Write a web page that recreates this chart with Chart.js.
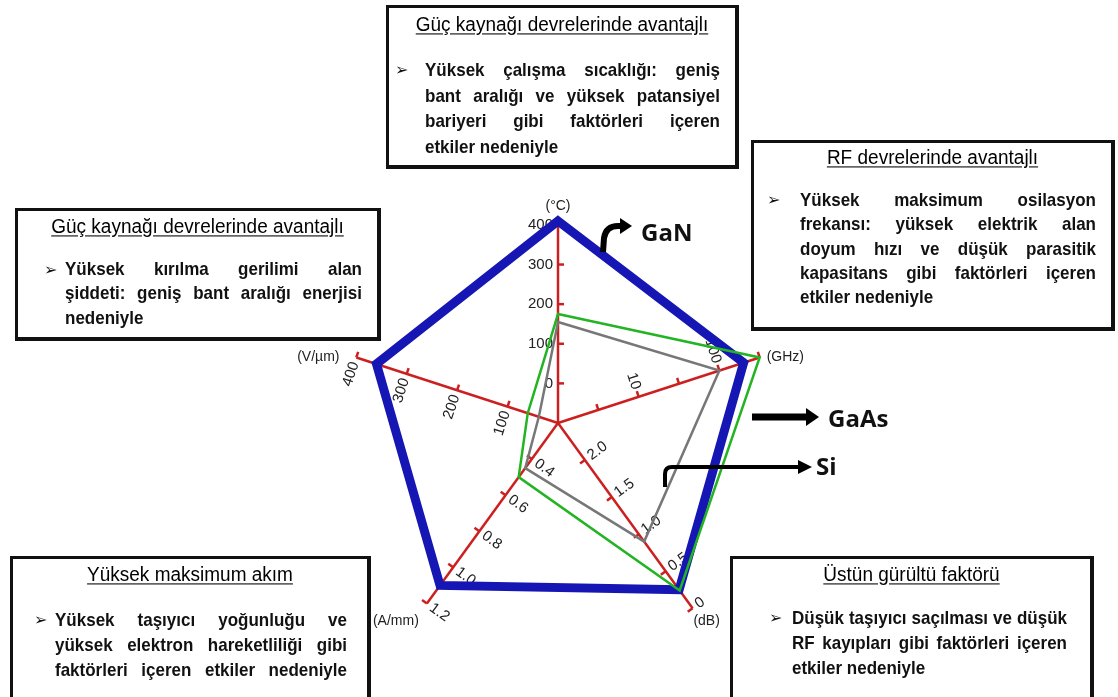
<!DOCTYPE html>
<html>
<head>
<meta charset="utf-8">
<script src="https://cdn.jsdelivr.net/npm/chart.js@4.4.0/dist/chart.umd.min.js"></script>
<style>
html, body { margin: 0; padding: 0; background: #fff; }
body { width: 1118px; height: 697px; position: relative; overflow: hidden; font-family: "Liberation Sans", Arial, sans-serif; color: #111; }
#wrap { position: absolute; left: 0; top: 0; width: 1118px; height: 697px; }
.box { position: absolute; background: #fff; border: 3px solid #111; border-right-width: 4px; border-bottom-width: 4px; box-sizing: border-box; }
.ttl { position: absolute; left: 0; right: 0; text-align: center; font-size: 19px; line-height: 22px; color: #000; text-decoration: underline; text-underline-offset: 2px; transform: scaleY(1.05); }
.txt { position: absolute; font-size: 17px; font-weight: bold; }
.txt div { white-space: nowrap; text-align: justify; text-align-last: justify; transform: scaleY(1.12); }
.txt div.last { text-align-last: left; }
.bul { position: absolute; font-family: "DejaVu Sans", sans-serif; font-size: 16px; font-weight: bold; }
.mat { position: absolute; font-family: "Open Sans", sans-serif; font-weight: 700; font-size: 24px; line-height: 30px; }
svg { position: absolute; left: 0; top: 0; }
</style>
</head>
<body>
<div id="wrap"><canvas id="radar"></canvas></div>

<svg width="1118" height="697">
  <path d="M603 252 L604 238 Q606 226 618 226 L622 226" stroke="#000" stroke-width="6" fill="none"/>
  <polygon points="620,218 632,226 620,234" fill="#000"/>
  <path d="M752 417 L808 417" stroke="#000" stroke-width="7"/>
  <polygon points="806,408 819,417 806,426" fill="#000"/>
  <path d="M665 487 L665 474 Q665 467 672 467 L800 467" stroke="#000" stroke-width="4" fill="none"/>
  <polygon points="798,460 812,467 798,474" fill="#000"/>
</svg>
<div class="mat" style="left:641px;top:217px;">GaN</div>
<div class="mat" style="left:828px;top:403px;">GaAs</div>
<div class="mat" style="left:816px;top:451px;">Si</div>

<div class="box" style="left:386px;top:5px;width:353px;height:164px;">
  <div class="ttl" style="top:6px;">Güç kaynağı devrelerinde avantajlı</div>
  <div class="bul" style="left:6px;top:52px;">➢</div>
  <div class="txt" style="left:36px;top:49px;width:295px;line-height:25.5px;">
    <div>Yüksek çalışma sıcaklığı: geniş</div>
    <div>bant aralığı ve yüksek patansiyel</div>
    <div>bariyeri gibi faktörleri içeren</div>
    <div class="last">etkiler nedeniyle</div>
  </div>
</div>

<div class="box" style="left:751px;top:140px;width:364px;height:191px;">
  <div class="ttl" style="top:4px;">RF devrelerinde avantajlı</div>
  <div class="bul" style="left:13px;top:47px;">➢</div>
  <div class="txt" style="left:46px;top:45px;width:296px;line-height:24.3px;">
    <div>Yüksek maksimum osilasyon</div>
    <div>frekansı: yüksek elektrik alan</div>
    <div>doyum hızı ve düşük parasitik</div>
    <div>kapasitans gibi faktörleri içeren</div>
    <div class="last">etkiler nedeniyle</div>
  </div>
</div>

<div class="box" style="left:15px;top:208px;width:366px;height:133px;">
  <div class="ttl" style="top:5px;">Güç kaynağı devrelerinde avantajlı</div>
  <div class="bul" style="left:26px;top:49px;">➢</div>
  <div class="txt" style="left:47px;top:46px;width:297px;line-height:24.3px;">
    <div>Yüksek kırılma gerilimi alan</div>
    <div>şiddeti: geniş bant aralığı enerjisi</div>
    <div class="last">nedeniyle</div>
  </div>
</div>

<div class="box" style="left:10px;top:556px;width:361px;height:160px;">
  <div class="ttl" style="top:5px;">Yüksek maksimum akım</div>
  <div class="bul" style="left:21px;top:51px;">➢</div>
  <div class="txt" style="left:42px;top:48px;width:292px;line-height:25px;">
    <div>Yüksek taşıyıcı yoğunluğu ve</div>
    <div>yüksek elektron hareketliliği gibi</div>
    <div>faktörleri içeren etkiler nedeniyle</div>
  </div>
</div>

<div class="box" style="left:730px;top:556px;width:364px;height:160px;">
  <div class="ttl" style="top:5px;">Üstün gürültü faktörü</div>
  <div class="bul" style="left:36px;top:49px;">➢</div>
  <div class="txt" style="left:59px;top:46px;width:275px;line-height:25px;">
    <div>Düşük taşıyıcı saçılması ve düşük</div>
    <div>RF kayıpları gibi faktörleri içeren</div>
    <div class="last">etkiler nedeniyle</div>
  </div>
</div>

<script>
// axes, clockwise from top
var categories = ['Çalışma sıcaklığı', 'Osilasyon frekansı', 'Gürültü faktörü', 'Maksimum akım', 'Kırılma alanı'];
var units = ['(°C)', '(GHz)', '(dB)', '(A/mm)', '(V/µm)'];

// values per material, same order as categories
var gan  = [410, 200, 0.25, 1.10, 360];
var gaas = [175, 316, 0.24, 0.50, 60];
var si   = [155, 100, 0.90, 0.45, 38];

// tick values and tick labels of each axis
var tempTicks  = [0, 100, 200, 300, 400];
var tempLabels = ['0', '100', '200', '300', '400'];
var freqTicks  = [3.16, 10, 31.6, 100, 316];
var freqLabels = ['', '10', '', '100', ''];
var nfTicks    = [2.0, 1.5, 1.0, 0.5, 0];
var nfLabels   = ['2.0', '1.5', '1.0', '0.5', '0'];
var curTicks   = [0.4, 0.6, 0.8, 1.0, 1.2];
var curLabels  = ['0.4', '0.6', '0.8', '1.0', '1.2'];
var fieldTicks  = [100, 200, 300, 400];
var fieldLabels = ['100', '200', '300', '400'];

var RED = '#cc2020', BLUE = '#1616b4', GREEN = '#22b422', GRAY = '#777777';

// how each axis maps its own values onto the shared radius (0..1)
var axes = [
    {from: -100, to: 400, len: 0.865, log: false, ticks: tempTicks, labels: tempLabels, tickSide: 1, unitDx: 0, unitDy: -19, unitAlign: 'center'},
    {from: 1, to: 316, len: 0.926, log: true, ticks: freqTicks, labels: freqLabels, tickSide: -1, unitDx: 7, unitDy: 0, unitAlign: 'left'},
    {from: 2.5, to: 0, len: 1.0, log: false, ticks: nfTicks, labels: nfLabels, tickSide: 1, unitDx: 14, unitDy: 13, unitAlign: 'center'},
    {from: 0.2, to: 1.2, len: 0.974, log: false, ticks: curTicks, labels: curLabels, tickSide: 1, unitDx: -31, unitDy: 18, unitAlign: 'center'},
    {from: 0, to: 400, len: 0.926, log: false, ticks: fieldTicks, labels: fieldLabels, tickSide: 1, unitDx: -38, unitDy: 0, unitAlign: 'center'}
];

function frac(i, v) {
    var a = axes[i], t;
    if (a.log) t = (Math.log10(v) - Math.log10(a.from)) / (Math.log10(a.to) - Math.log10(a.from));
    else t = (v - a.from) / (a.to - a.from);
    return t * a.len;
}
function norm(values) { return values.map(function (v, i) { return frac(i, v); }); }

var redAxes = {
    id: 'redAxes',
    beforeDatasetsDraw: function (chart) {
        var s = chart.scales.r, ctx = chart.ctx;
        var cx = s.xCenter, cy = s.yCenter;
        ctx.save();
        ctx.strokeStyle = RED;
        ctx.lineWidth = 2.5;
        ctx.fillStyle = '#222';
        axes.forEach(function (a, i) {
            var end = s.getPointPositionForValue(i, a.len);
            var ang = end.angle;
            var nx = -Math.sin(ang), ny = Math.cos(ang);
            ctx.beginPath();
            ctx.moveTo(cx, cy);
            ctx.lineTo(end.x, end.y);
            ctx.stroke();
            a.ticks.forEach(function (v, k) {
                var p = s.getPointPositionForValue(i, frac(i, v));
                ctx.beginPath();
                ctx.moveTo(p.x, p.y);
                ctx.lineTo(p.x + a.tickSide * nx * 6, p.y + a.tickSide * ny * 6);
                ctx.stroke();
                var lab = a.labels[k];
                if (!lab) return;
                ctx.font = '15px "Liberation Sans", Arial, sans-serif';
                var w = ctx.measureText(lab).width;
                var off = 5 + w / 2 + (a.tickSide < 0 ? 3 : 0);
                var rot = ang + Math.PI / 2;
                while (rot > Math.PI / 2 + 0.001) rot -= Math.PI;
                while (rot <= -Math.PI / 2 + 0.001) rot += Math.PI;
                ctx.save();
                ctx.translate(p.x - nx * off, p.y - ny * off);
                ctx.rotate(rot);
                ctx.textAlign = 'center';
                ctx.textBaseline = 'middle';
                ctx.fillText(lab, 0, 0);
                ctx.restore();
            });
            ctx.font = '14px "Liberation Sans", Arial, sans-serif';
            ctx.textAlign = a.unitAlign;
            ctx.textBaseline = 'middle';
            ctx.fillText(units[i], end.x + a.unitDx, end.y + a.unitDy);
        });
        ctx.restore();
    }
};

var common = {fill: false, pointRadius: 0, pointHoverRadius: 0, tension: 0, clip: false, backgroundColor: 'transparent', borderJoinStyle: 'miter'};

new Chart(document.getElementById('radar').getContext('2d'), {
    type: 'radar',
    data: {
        labels: categories,
        datasets: [
            Object.assign({label: 'GaAs', data: norm(gaas), borderColor: GREEN, borderWidth: 2.5, order: 0}, common),
            Object.assign({label: 'Si', data: norm(si), borderColor: GRAY, borderWidth: 2.5, order: 1}, common),
            Object.assign({label: 'GaN', data: norm(gan), borderColor: BLUE, borderWidth: 9, order: 2}, common)
        ]
    },
    options: {
        responsive: true,
        maintainAspectRatio: false,
        animation: false,
        layout: {padding: {left: 329, right: 331, top: 194, bottom: 45}},
        plugins: {legend: {display: false}, tooltip: {enabled: false}},
        scales: {
            r: {
                min: 0, max: 1,
                ticks: {display: false},
                grid: {display: false},
                angleLines: {display: false},
                pointLabels: {display: false}
            }
        }
    },
    plugins: [redAxes]
});
</script>
</body>
</html>
